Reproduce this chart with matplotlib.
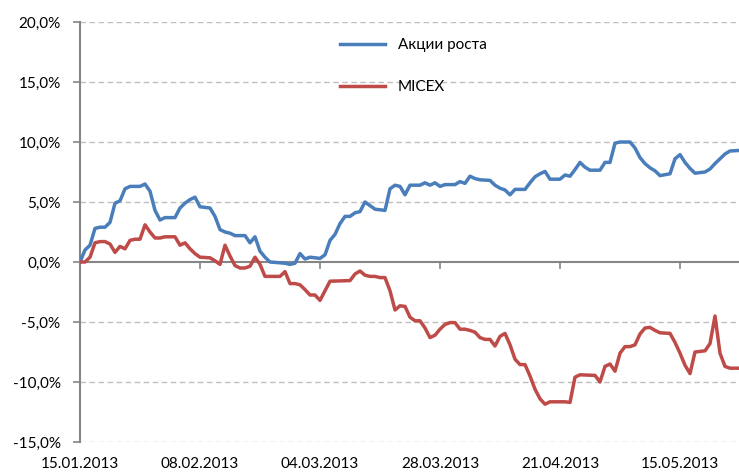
import numpy as np
import pandas as pd
import matplotlib
matplotlib.use("Agg")
import matplotlib.pyplot as plt
import matplotlib.dates as mdates
from matplotlib.ticker import FuncFormatter

plt.rcParams['font.family'] = ['Lato', 'DejaVu Sans']

start = pd.Timestamp("2013-01-15")

# days since 15.01.2013 and cumulative return, %
days_growth = [0, 1, 2, 3, 4, 5, 6, 7, 8, 9, 10, 12, 13, 14, 15, 16, 17, 19, 20, 21, 22, 23, 24, 26,
               27, 28, 29, 30, 31, 33, 34, 35, 36, 37, 38, 41, 42, 43, 44, 45, 46, 48, 49, 50, 51,
               52, 53, 54, 55, 56, 57, 58, 59, 61, 62, 63, 64, 65, 66, 68, 69, 70, 71, 72, 73, 75,
               76, 77, 78, 79, 80, 82, 83, 84, 85, 86, 87, 89, 90, 91, 92, 93, 94, 96, 97, 98, 99,
               100, 101, 102, 104, 105, 106, 107, 108, 110, 111, 112, 113, 114, 115, 116, 118, 119,
               120, 121, 122, 123, 125, 126, 127, 128, 129, 130, 132]
growth = [0.0, 1.0, 1.4, 2.8, 2.9, 2.9, 3.3, 4.9, 5.1, 6.1, 6.3, 6.3, 6.5, 5.9, 4.3, 3.5, 3.7, 3.7,
          4.5, 4.9, 5.2, 5.4, 4.6, 4.5, 3.8, 2.7, 2.5, 2.4, 2.2, 2.2, 1.6, 2.1, 0.9, 0.4, 0.0, -0.1,
          -0.2, -0.1, 0.7, 0.25, 0.4, 0.3, 0.6, 1.8, 2.3, 3.2, 3.8, 3.8, 4.1, 4.2, 5.0, 4.7, 4.4,
          4.3, 6.1, 6.4, 6.3, 5.6, 6.4, 6.4, 6.6, 6.4, 6.6, 6.3, 6.45, 6.45, 6.7, 6.55, 7.15, 6.95,
          6.85, 6.8, 6.4, 6.15, 6.0, 5.6, 6.05, 6.05, 6.6, 7.1, 7.35, 7.55, 6.9, 6.9, 7.25, 7.15,
          7.7, 8.3, 7.9, 7.65, 7.65, 8.3, 8.3, 9.9, 10.0, 10.0, 9.5, 8.7, 8.2, 7.85, 7.6, 7.2,
          7.35, 8.6, 8.95, 8.3, 7.8, 7.4, 7.5, 7.75, 8.2, 8.6, 9.0, 9.25, 9.3]

days_micex = [0, 1, 2, 3, 4, 5, 6, 7, 8, 9, 10, 11, 12, 13, 14, 15, 16, 17, 19, 20, 21, 22, 23, 24,
              26, 27, 28, 29, 30, 31, 32, 33, 34, 35, 36, 37, 38, 40, 41, 42, 43, 44, 45, 46, 47,
              48, 49, 50, 54, 55, 56, 57, 58, 59, 60, 61, 62, 63, 64, 65, 66, 67, 68, 69, 70, 71,
              72, 73, 74, 75, 76, 77, 78, 79, 80, 81, 82, 83, 84, 85, 86, 87, 88, 89, 90, 91, 92,
              93, 94, 97, 98, 99, 100, 103, 104, 105, 106, 107, 108, 109, 110, 111, 112, 113, 114,
              115, 116, 118, 119, 120, 121, 122, 123, 125, 126, 127, 128, 129, 130, 132]
micex = [0.0, 0.0, 0.4, 1.6, 1.7, 1.7, 1.5, 0.8, 1.3, 1.1, 1.8, 1.9, 1.9, 3.1, 2.5, 2.0, 2.0, 2.1,
         2.1, 1.4, 1.6, 1.1, 0.7, 0.4, 0.35, 0.1, -0.2, 1.4, 0.5, -0.3, -0.5, -0.5, -0.35, 0.4,
         -0.2, -1.2, -1.2, -1.2, -0.8, -1.8, -1.8, -1.9, -2.3, -2.75, -2.75, -3.2, -2.4, -1.6,
         -1.55, -1.0, -0.75, -1.1, -1.2, -1.2, -1.3, -1.3, -2.4, -4.0, -3.65, -3.7, -4.6, -4.9,
         -4.9, -5.5, -6.3, -6.1, -5.6, -5.2, -5.05, -5.05, -5.6, -5.6, -5.7, -5.85, -6.3, -6.45,
         -6.45, -7.0, -6.2, -5.95, -6.9, -8.1, -8.55, -8.55, -9.5, -10.6, -11.4, -11.85, -11.65,
         -11.65, -11.7, -9.6, -9.4, -9.45, -10.0, -8.7, -8.5, -9.1, -7.6, -7.05, -7.05, -6.9,
         -6.0, -5.5, -5.45, -5.7, -5.9, -5.95, -6.7, -7.6, -8.6, -9.3, -7.5, -7.4, -6.8, -4.5,
         -7.6, -8.7, -8.85, -8.85]

tick_days = [0, 24, 48, 72, 96, 120]
y_ticks = [-15, -10, -5, 0, 5, 10, 15, 20]


def to_num(days):
    return mdates.date2num(start + pd.to_timedelta(days, unit="D"))


fig = plt.figure(figsize=(7.39, 4.74), dpi=100)
ax = fig.add_axes([80 / 739, 32 / 474, 659 / 739, 420 / 474])

grey = "#868686"
for y in y_ticks:
    if y != 0:
        ax.axhline(y, color="#bfbfbf", lw=1, ls=(0, (4, 2.5)), zorder=1)

ax.plot(to_num(days_growth), growth, color="#4a7ebb", lw=2.5, label="Акции роста", zorder=3,
        solid_joinstyle="round")
ax.plot(to_num(days_micex), micex, color="#be4b48", lw=2.5, label="MICEX", zorder=3,
        solid_joinstyle="round")

ax.set_ylim(-15, 20)
ax.set_xlim(to_num(0), to_num(131.8))
ax.set_yticks(y_ticks)
ax.yaxis.set_major_formatter(FuncFormatter(lambda v, p: f"{v:.1f}%".replace(".", ",")))
ax.tick_params(axis="y", length=5, width=1.2, color=grey, pad=9, labelsize=11, labelcolor="black")

for s in ["top", "right"]:
    ax.spines[s].set_visible(False)
ax.spines["left"].set_color(grey)
ax.spines["left"].set_linewidth(1.5)
ax.spines["bottom"].set_position(("data", 0))
ax.spines["bottom"].set_color(grey)
ax.spines["bottom"].set_linewidth(1.5)
ax.set_xticks(to_num(tick_days))
ax.set_xticklabels([])
ax.tick_params(axis="x", length=5, width=1.2, color=grey, direction="out")

labels = [(start + pd.Timedelta(days=d)).strftime("%d.%m.%Y") for d in tick_days]
sec = ax.secondary_xaxis(0)
sec.set_xticks(to_num(tick_days))
sec.set_xticklabels(labels)
sec.tick_params(length=0, pad=11, labelsize=11)
sec.spines["bottom"].set_visible(False)

ax.legend(loc="upper left", bbox_to_anchor=(0.3945, 0.961), frameon=False, fontsize=11,
          handlelength=2.95, handletextpad=0.85, labelspacing=1.8, borderpad=0, borderaxespad=0)

fig.savefig("out.png", dpi=100)
